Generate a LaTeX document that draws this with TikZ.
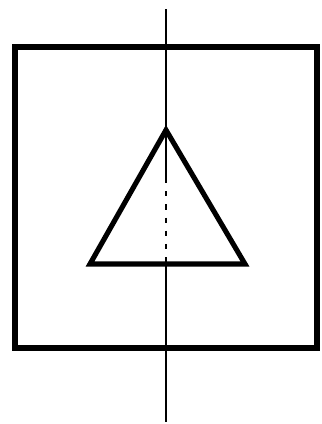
\documentclass[tikz,border=0pt]{standalone}
\begin{document}
\begin{tikzpicture}[x=0.02cm,y=-0.02cm,line join=miter]
% Square with triangle and vertical axis
\useasboundingbox (0,0) rectangle (322,424);
\coordinate (top) at (166,9);
\coordinate (bot) at (166,422);
\coordinate (apex) at (166,130);
\coordinate (dtop) at (166,178);
\coordinate (dbot) at (166,264);
\draw[line width=2.9pt] (15,47) rectangle (317,348);
\draw[line width=2.9pt] (apex)--(90,264)--(245,264)--cycle;
\draw[line width=0.9pt] (top)--(dtop); \draw[line width=0.9pt] (dbot)--(bot);
\draw[line width=0.9pt,dash pattern=on 3pt off 4.5pt] (dtop)--(dbot);
\end{tikzpicture}
\end{document}
